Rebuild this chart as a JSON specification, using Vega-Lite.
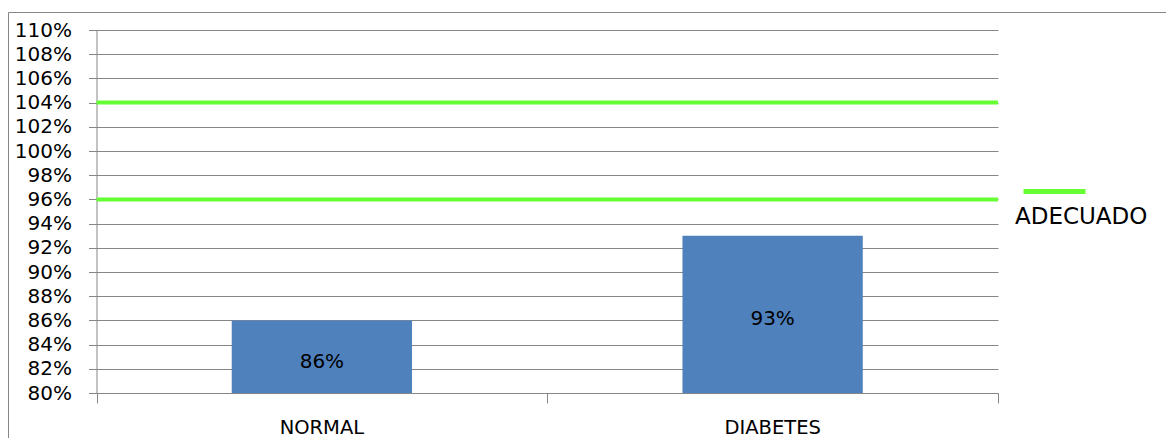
{
  "$schema": "https://vega.github.io/schema/vega-lite/v6.json",
  "width": 1160,
  "height": 428,
  "autosize": {"type": "none"},
  "padding": {"left": 8, "top": 12, "right": -2, "bottom": -2},
  "background": "white",
  "config": {
    "font": "DejaVu Sans",
    "view": {"stroke": "#868686", "strokeWidth": 1, "fill": "white"}
  },
  "datasets": {
    "cumplimiento": [
      {"grupo": "NORMAL", "valor": 0.86},
      {"grupo": "DIABETES", "valor": 0.93}
    ],
    "rango": [
      {"serie": "ADECUADO", "valor": 0.96},
      {"serie": "ADECUADO", "valor": 1.04}
    ]
  },
  "encoding": {
    "y": {
      "field": "valor",
      "type": "quantitative",
      "scale": {"domain": [0.8, 1.1], "range": [381, 18], "nice": false, "zero": false},
      "axis": {
        "title": null,
        "values": [0.8, 0.82, 0.84, 0.86, 0.88, 0.9, 0.92, 0.94, 0.96, 0.98, 1.0, 1.02, 1.04, 1.06, 1.08, 1.1],
        "format": ".0%",
        "offset": -88.5,
        "grid": true,
        "gridColor": "#868686",
        "gridWidth": 1,
        "domainColor": "#868686",
        "tickColor": "#868686",
        "tickSize": 8,
        "labelPadding": 17,
        "labelFontSize": 20,
        "labelColor": "#000000"
      }
    }
  },
  "layer": [
    {
      "data": {"name": "cumplimiento"},
      "encoding": {
        "x": {
          "field": "grupo",
          "type": "nominal",
          "sort": null,
          "scale": {"range": [88.5, 990], "paddingInner": 0.6, "paddingOuter": 0.3},
          "axis": {
            "title": null,
            "orient": "bottom",
            "offset": -47,
            "labelAngle": 0,
            "ticks": false,
            "domainColor": "#868686",
            "labelFontSize": 19.5,
            "labelColor": "#000000",
            "labelPadding": 25,
            "grid": false
          }
        }
      },
      "layer": [
        {
          "mark": {"type": "bar", "color": "#4F81BD"},
          "encoding": {"y2": {"datum": 0.8}}
        },
        {
          "transform": [{"calculate": "(datum.valor + 0.8) / 2", "as": "centro"}],
          "mark": {"type": "text", "fontSize": 20, "color": "#000000", "baseline": "middle", "dy": 5},
          "encoding": {
            "y": {"field": "centro", "type": "quantitative"},
            "text": {"field": "valor", "format": ".0%"}
          }
        }
      ]
    },
    {
      "data": {"name": "rango"},
      "mark": {"type": "rule", "strokeWidth": 4, "strokeCap": "butt"},
      "encoding": {
        "x": {
          "datum": 0,
          "type": "quantitative",
          "scale": {"domain": [0, 1], "range": [88.5, 990]},
          "axis": {
            "orient": "bottom",
            "offset": -47,
            "values": [0, 0.5, 1],
            "title": null,
            "domain": false,
            "labels": false,
            "grid": false,
            "ticks": true,
            "tickSize": 10,
            "tickColor": "#868686"
          }
        },
        "x2": {"datum": 1},
        "detail": {"field": "valor", "type": "quantitative"},
        "color": {
          "field": "serie",
          "type": "nominal",
          "scale": {"range": ["#66FF33"]},
          "legend": {
            "orient": "none",
            "legendX": 1007,
            "legendY": 146,
            "title": "ADECUADO",
            "titleOrient": "bottom",
            "titleFontSize": 23,
            "titleFontWeight": "normal",
            "titleColor": "#000000",
            "titlePadding": 4,
            "symbolType": "stroke",
            "symbolSize": 3844,
            "symbolStrokeWidth": 5,
            "symbolOffset": 6,
            "labelExpr": "''"
          }
        }
      }
    }
  ],
  "resolve": {"scale": {"x": "independent"}, "axis": {"x": "independent"}}
}
